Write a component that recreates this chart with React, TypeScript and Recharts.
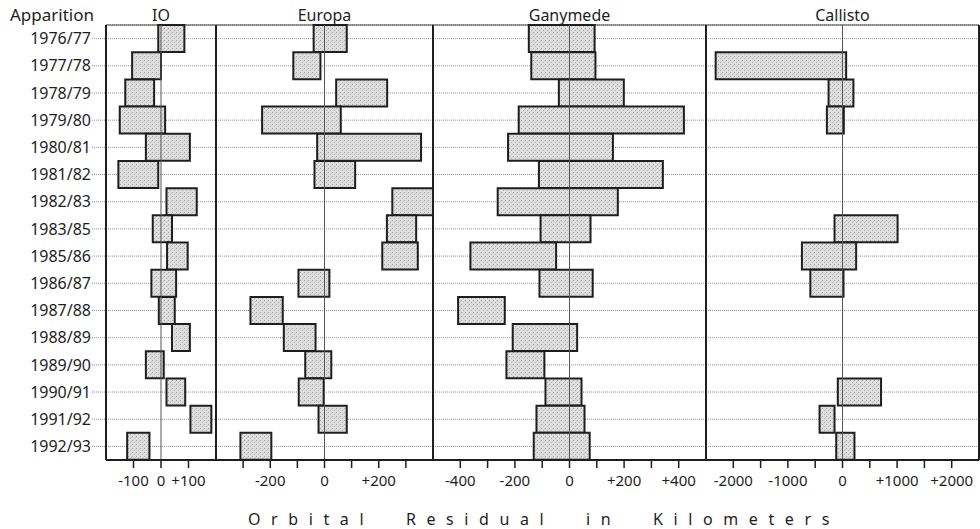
import React from 'react';
import { BarChart, Bar, XAxis, YAxis, CartesianGrid, ReferenceLine } from 'recharts';

type Range = [number, number] | null;

const apparitions = [
  '1976/77', '1977/78', '1978/79', '1979/80', '1980/81', '1981/82', '1982/83', '1983/85',
  '1985/86', '1986/87', '1987/88', '1988/89', '1989/90', '1990/91', '1991/92', '1992/93',
];

// residual ranges [low, high] in km, one per apparition
const ioRange: Range[] = [
  [-10, 85], [-105, 0], [-130, -25], [-150, 15], [-55, 105], [-155, -10], [20, 130], [-30, 40],
  [22, 97], [-35, 55], [-8, 50], [40, 105], [-55, 10], [20, 88], [107, 183], [-123, -42],
];
const europaRange: Range[] = [
  [-40, 82], [-115, -15], [43, 231], [-230, 60], [-27, 356], [-37, 113], [250, 413], [230, 338],
  [213, 344], [-96, 18], [-273, -154], [-150, -33], [-71, 25], [-95, -3], [-22, 82], [-310, -196],
];
const ganymedeRange: Range[] = [
  [-149, 92], [-140, 95], [-39, 199], [-186, 419], [-225, 159], [-112, 342], [-263, 177], [-106, 77],
  [-363, -49], [-110, 85], [-408, -237], [-208, 28], [-231, -92], [-88, 44], [-121, 55], [-131, 74],
];
const callistoRange: Range[] = [
  null, [-2323, 67], [-255, 200], [-286, 24], null, null, null, [-146, 1009],
  [-743, 250], [-589, 18], null, null, null, [-86, 706], [-420, -146], [-115, 219],
];

const ioTicks = [-100, 0, 100];
const ioLabels = [-100, 0, 100];
const europaTicks = [-300, -200, -100, 0, 100, 200, 300];
const europaLabels = [-200, 0, 200];
const ganymedeTicks = [-400, -300, -200, -100, 0, 100, 200, 300, 400];
const ganymedeLabels = [-400, -200, 0, 200, 400];
const callistoTicks = [-2000, -1500, -1000, -500, 0, 500, 1000, 1500, 2000];
const callistoLabels = [-2000, -1000, 0, 1000, 2000];

const rows = apparitions.map((name, i) => ({
  name,
  io: ioRange[i],
  europa: europaRange[i],
  ganymede: ganymedeRange[i],
  callisto: callistoRange[i],
}));

const FONT = '"Noto Sans", "DejaVu Sans", sans-serif';
const INK = '#1e1e1e';
const H = 529;

interface Props {
  moon: 'io' | 'europa' | 'ganymede' | 'callisto';
  title: string;
  domain: [number, number];
  ticks: number[];
  labels: number[];
  plotLeft: number;
  plotWidth: number;
  first?: boolean;
  last?: boolean;
}

function Panel({ moon, title, domain, ticks, labels, plotLeft, plotWidth, first, last }: Props) {
  const padL = first ? plotLeft : 4;
  const padR = 4;
  const fmt = (v: number) => (labels.includes(v) ? (v > 0 ? `+${v}` : `${v}`) : '');
  const fillId = `stipple-${moon}`;

  return (
    <div style={{ position: 'absolute', left: plotLeft - padL, top: 0 }}>
      <BarChart
        width={padL + plotWidth + padR}
        height={H}
        data={rows}
        layout="vertical"
        barCategoryGap={0}
        margin={{ top: 25, right: padR, bottom: 39, left: first ? 0 : padL }}
      >
        <defs>
          <pattern id={fillId} width={4} height={4} patternUnits="userSpaceOnUse">
            <rect width={4} height={4} fill="#dedede" />
            <rect x={0} y={0} width={1} height={1} fill="#a4a4a4" />
            <rect x={2} y={2} width={1} height={1} fill="#b8b8b8" />
            <rect x={3} y={1} width={1} height={1} fill="#c8c8c8" />
          </pattern>
        </defs>
        {/* dotted row guides */}
        <CartesianGrid vertical={false} stroke="#909090" strokeDasharray="1 1" />
        {/* frame: thin top, heavy bottom */}
        <CartesianGrid
          vertical={false}
          stroke="#444"
          strokeWidth={1}
          horizontalCoordinatesGenerator={({ offset }: any) => [offset.top]}
        />
        <CartesianGrid
          vertical={false}
          stroke={INK}
          strokeWidth={2}
          horizontalCoordinatesGenerator={({ offset }: any) => [offset.top + offset.height]}
        />
        <XAxis
          type="number"
          domain={domain}
          ticks={ticks}
          interval={0}
          allowDataOverflow
          height={30}
          tickSize={8}
          tickMargin={7}
          axisLine={{ stroke: INK, strokeWidth: 2 }}
          tickLine={{ stroke: INK, strokeWidth: 1.5 }}
          tick={{ fill: INK, fontSize: 15, fontFamily: FONT }}
          tickFormatter={fmt}
        />
        <YAxis
          type="category"
          dataKey="name"
          interval={0}
          width={first ? plotLeft : 0}
          tickSize={first ? 14 : 0}
          tickMargin={1}
          tick={{ fill: INK, fontSize: first ? 16 : 0, fontFamily: FONT }}
          tickFormatter={(v: string) => (first ? v : '')}
          tickLine={first ? { stroke: '#909090', strokeDasharray: '1 1' } : false}
          axisLine={{ stroke: INK, strokeWidth: 2 }}
        />
        <Bar dataKey={moon} fill={`url(#${fillId})`} stroke={INK} strokeWidth={2} isAnimationActive={false} />
        <ReferenceLine
          x={0}
          stroke="#555"
          strokeWidth={1}
          label={{ value: title, position: 'top', offset: 4, fill: INK, fontSize: 16, fontFamily: FONT }}
        />
        {/* panel borders */}
        <ReferenceLine x={domain[0]} stroke={INK} strokeWidth={2} ifOverflow="visible" />
        {last && <ReferenceLine x={domain[1]} stroke={INK} strokeWidth={2} ifOverflow="visible" />}
      </BarChart>
    </div>
  );
}

export default function App() {
  return (
    <div
      style={{
        position: 'absolute',
        left: 0,
        top: 0,
        width: 980,
        height: H,
        background: '#fff',
        overflow: 'hidden',
        fontFamily: FONT,
        color: INK,
      }}
    >
      <div style={{ position: 'absolute', left: 10, top: 5, fontSize: 17, lineHeight: '20px' }}>Apparition</div>

      <Panel moon="io" title="IO" domain={[-200, 200]} ticks={ioTicks} labels={ioLabels} plotLeft={106} plotWidth={110} first />
      <Panel moon="europa" title="Europa" domain={[-400, 400]} ticks={europaTicks} labels={europaLabels} plotLeft={216} plotWidth={217} />
      <Panel moon="ganymede" title="Ganymede" domain={[-500, 500]} ticks={ganymedeTicks} labels={ganymedeLabels} plotLeft={433} plotWidth={273} />
      <Panel moon="callisto" title="Callisto" domain={[-2500, 2500]} ticks={callistoTicks} labels={callistoLabels} plotLeft={706} plotWidth={273} last />

      <div
        style={{
          position: 'absolute',
          left: 4,
          width: 1080,
          top: 509,
          textAlign: 'center',
          fontSize: 16,
          lineHeight: '20px',
          letterSpacing: 10.6,
          wordSpacing: 17,
          whiteSpace: 'nowrap',
        }}
      >
        Orbital Residual in Kilometers
      </div>
    </div>
  );
}
